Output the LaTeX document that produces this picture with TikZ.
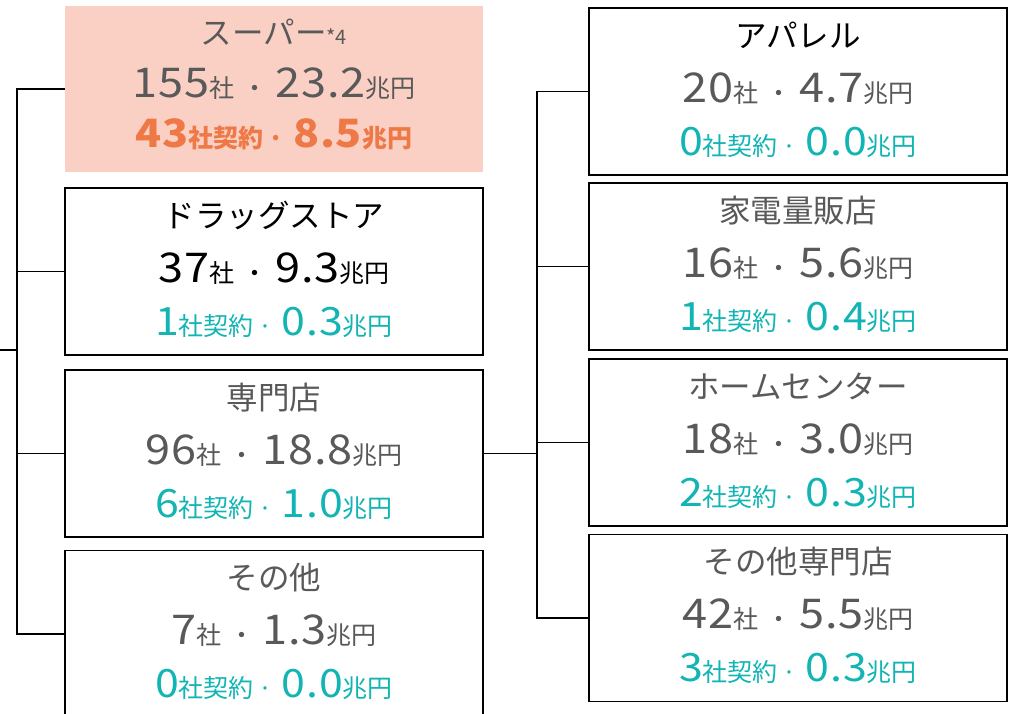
\documentclass[tikz,border=0pt]{standalone}
\usepackage{fontspec}
\setmainfont{Noto Sans CJK JP}
\newfontfamily\digfont[FakeStretch=1.1,LetterSpace=2]{Noto Sans CJK JP}
\definecolor{tgrey}{HTML}{595959}
\definecolor{tteal}{HTML}{12B4B4}
\definecolor{torange}{HTML}{EE7846}
\definecolor{tfill}{HTML}{F9D0C3}
\newcommand\myD{\digfont\fontsize{41pt}{41pt}\selectfont}
\newcommand\myE{\digfont\fontsize{39pt}{39pt}\selectfont}
\newcommand\myK{\fontsize{25pt}{25pt}\selectfont}
\newcommand\myT{\fontsize{31.5pt}{31.5pt}\selectfont}
\newcommand\myS{\fontsize{20pt}{20pt}\selectfont}
\newcommand\lineB[2]{{\myD #1}{\myK 社\hspace{8pt}・\hspace{8pt}}{\myD #2}{\myK 兆円}}
\newcommand\lineC[2]{{\myE #1}{\myK 社契約\hspace{5pt}·\hspace{9pt}}{\myE #2}{\myK 兆円}}
\tikzset{
  box/.style={draw=black, line width=1.6pt, minimum width=418pt, minimum height=167pt, inner sep=0pt},
  pinkbox/.style={fill=tfill, minimum width=418pt, minimum height=166pt, inner sep=0pt},
  txt/.style={anchor=base, inner sep=0pt},
  conn/.style={draw=black, line width=1.6pt},
}
\begin{document}
\begin{tikzpicture}[x=1pt,y=-1pt]
\clip (0,0) rectangle (1025,714);
\fill[white] (0,0) rectangle (1025,714);
% left boxes
\node[pinkbox] (L1) at (274,89) {};
\node[box] (L2) at (274,271.5) {};
\node[box] (L3) at (274,453.5) {};
\node[box] (L4) at (274,634) {};
% right boxes
\node[box] (R1) at (798,91.5) {};
\node[box] (R2) at (798,266.5) {};
\node[box] (R3) at (798,442.5) {};
\node[box] (R4) at (798,618) {};
% texts L1
\node[txt,text=tgrey] (L1a) at ([yshift=-39pt]L1.north) {\myT スーパー{\myS *4}};
\node[txt,text=tgrey] (L1b) at ([yshift=-92pt]L1.north) {\lineB{155}{23.2}};
\node[txt,text=torange,font=\bfseries] (L1c) at ([yshift=-142pt]L1.north) {\lineC{43}{8.5}};
% L2
\node[txt,text=black] (L2a) at ([yshift=-40pt]L2.north) {\myT ドラッグストア};
\node[txt,text=black] (L2b) at ([yshift=-95pt]L2.north) {\lineB{37}{9.3}};
\node[txt,text=tteal] (L2c) at ([yshift=-148pt]L2.north) {\lineC{1}{0.3}};
% L3
\node[txt,text=tgrey] (L3a) at ([yshift=-40pt]L3.north) {\myT 専門店};
\node[txt,text=tgrey] (L3b) at ([yshift=-95pt]L3.north) {\lineB{96}{18.8}};
\node[txt,text=tteal] (L3c) at ([yshift=-148pt]L3.north) {\lineC{6}{1.0}};
% L4
\node[txt,text=tgrey] (L4a) at ([yshift=-40pt]L4.north) {\myT その他};
\node[txt,text=tgrey] (L4b) at ([yshift=-95pt]L4.north) {\lineB{7}{1.3}};
\node[txt,text=tteal] (L4c) at ([yshift=-148pt]L4.north) {\lineC{0}{0.0}};
% R1
\node[txt,text=black] (R1a) at ([yshift=-40pt]R1.north) {\myT アパレル};
\node[txt,text=tgrey] (R1b) at ([yshift=-95pt]R1.north) {\lineB{20}{4.7}};
\node[txt,text=tteal] (R1c) at ([yshift=-148pt]R1.north) {\lineC{0}{0.0}};
% R2
\node[txt,text=tgrey] (R2a) at ([yshift=-40pt]R2.north) {\myT 家電量販店};
\node[txt,text=tgrey] (R2b) at ([yshift=-95pt]R2.north) {\lineB{16}{5.6}};
\node[txt,text=tteal] (R2c) at ([yshift=-148pt]R2.north) {\lineC{1}{0.4}};
% R3
\node[txt,text=tgrey] (R3a) at ([yshift=-40pt]R3.north) {\myT ホームセンター};
\node[txt,text=tgrey] (R3b) at ([yshift=-95pt]R3.north) {\lineB{18}{3.0}};
\node[txt,text=tteal] (R3c) at ([yshift=-148pt]R3.north) {\lineC{2}{0.3}};
% R4
\node[txt,text=tgrey] (R4a) at ([yshift=-40pt]R4.north) {\myT その他専門店};
\node[txt,text=tgrey] (R4b) at ([yshift=-95pt]R4.north) {\lineB{42}{5.5}};
\node[txt,text=tteal] (R4c) at ([yshift=-148pt]R4.north) {\lineC{3}{0.3}};
% connectors
\coordinate (root) at (0,350);
\coordinate (lt) at (17,89);
\coordinate (lb) at (17,634);
\coordinate (rt) at (537,91.5);
\coordinate (rb) at (537,618);
\draw[conn] (L1.west) -- (lt) -- (lb) -- (L4.west);
\draw[conn] (L2.west) -- (L2.west -| lt);
\draw[conn] (L3.west) -- (L3.west -| lt);
\draw[conn] (root) -- (root -| lt);
\draw[conn] (R1.west) -- (rt) -- (rb) -- (R4.west);
\draw[conn] (R2.west) -- (R2.west -| rt);
\draw[conn] (R3.west) -- (R3.west -| rt);
\draw[conn] (L3.east) -- (L3.east -| rt);
\end{tikzpicture}
\end{document}
